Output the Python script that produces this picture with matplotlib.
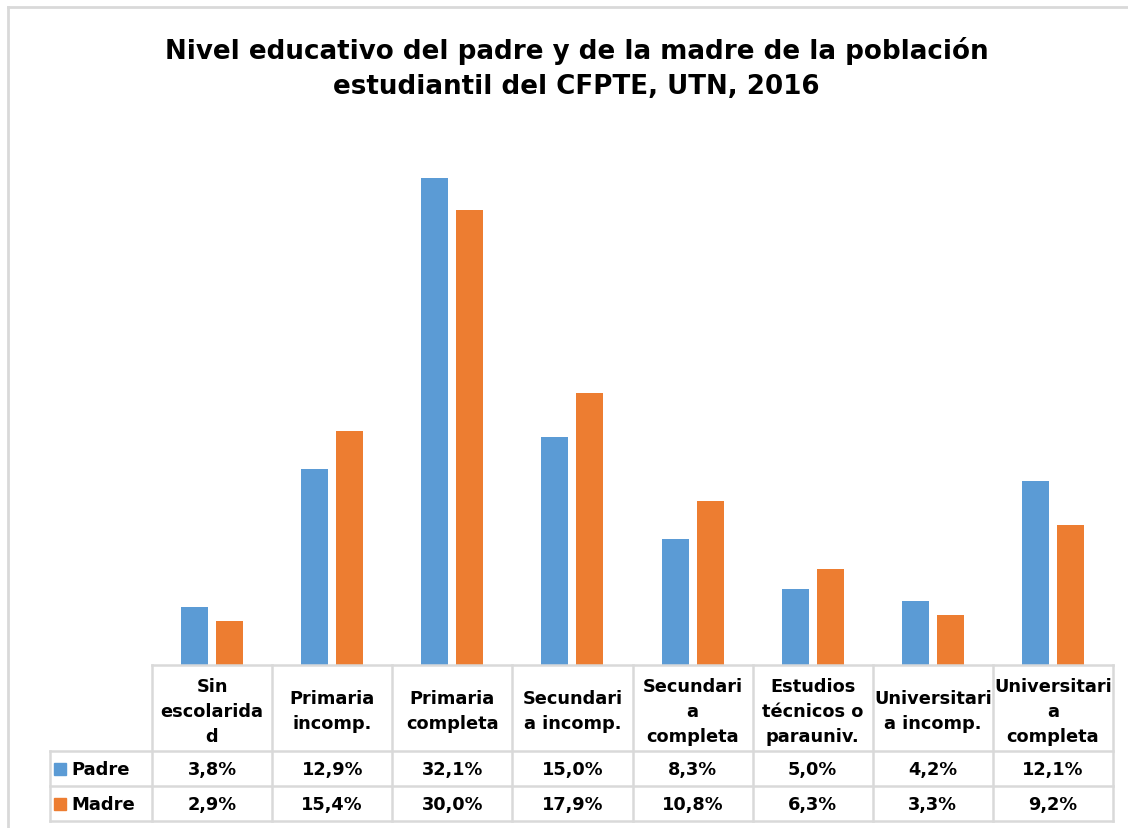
import matplotlib.pyplot as plt
from matplotlib.lines import Line2D
import numpy as np

# datos (porcentajes)
categorias = ['Sin\nescolarida\nd', 'Primaria\nincomp.', 'Primaria\ncompleta',
              'Secundari\na incomp.', 'Secundari\na\ncompleta',
              'Estudios\ntécnicos o\nparauniv.', 'Universitari\na incomp.',
              'Universitari\na\ncompleta']
padre = [3.8, 12.9, 32.1, 15.0, 8.3, 5.0, 4.2, 12.1]
madre = [2.9, 15.4, 30.0, 17.9, 10.8, 6.3, 3.3, 9.2]
series = ['Padre', 'Madre']
colores = ['#5B9BD5', '#ED7D31']

titulo = 'Nivel educativo del padre y de la madre de la población\nestudiantil del CFPTE, UTN, 2016'

plt.rcParams['font.family'] = ['DejaVu Sans']
gris = '#d9d9d9'

fig = plt.figure(figsize=(11.28, 8.29), dpi=100)
ax = fig.add_axes([152 / 1128, 163 / 829, 961 / 1128, 531 / 829])

x = np.arange(len(categorias))
ancho = 0.225
ax.bar(x - 0.146, padre, ancho, color=colores[0])
ax.bar(x + 0.146, madre, ancho, color=colores[1])

ax.set_xlim(-0.5, len(categorias) - 0.5)
ax.set_ylim(0, 35)
ax.axis('off')

# ---- tabla de datos debajo del gráfico ----
tr = ax.get_xaxis_transform()   # x en datos, y en fracción de ejes
y_enc = -0.162   # fondo de la fila de encabezado
y_p = -0.228     # fondo fila Padre
y_m = -0.294     # fondo fila Madre
x_izq = -1.35    # borde izquierdo de la columna de leyenda
x_der = len(categorias) - 0.5

def linea(xs, ys):
    ax.add_line(Line2D(xs, ys, transform=tr, color=gris, lw=1.8, clip_on=False))

linea([-0.5, x_der], [0, 0])
for yy in (y_enc, y_p, y_m):
    linea([x_izq, x_der], [yy, yy])
for xx in np.arange(-0.5, len(categorias)):
    linea([xx, xx], [0, y_m])
linea([x_izq, x_izq], [y_enc, y_m])

for i, cat in enumerate(categorias):
    ax.text(i, y_enc / 2 - 0.005, cat, transform=tr, ha='center', va='center',
            fontsize=12.8, fontweight='bold', linespacing=1.5)
    for vals, (ya, yb) in zip([padre, madre], [(y_enc, y_p), (y_p, y_m)]):
        ax.text(i, (ya + yb) / 2, f'{vals[i]:.1f}%'.replace('.', ','),
                transform=tr, ha='center', va='center',
                fontsize=12.8, fontweight='bold')

for nombre, col, (ya, yb) in zip(series, colores, [(y_enc, y_p), (y_p, y_m)]):
    ym = (ya + yb) / 2
    ax.plot([-1.27], [ym], marker='s', ms=8.5, color=col, transform=tr, clip_on=False)
    ax.text(-1.17, ym, nombre, transform=tr, ha='left', va='center',
            fontsize=13, fontweight='bold')

# título
fig.text(0.511, 0.917, titulo, ha='center', va='center', fontsize=18.8,
         fontweight='bold', linespacing=1.45)

# borde del área del gráfico (solo izquierda y arriba visibles)
fig.add_artist(Line2D([8 / 1128, 8 / 1128], [0, 1 - 8 / 829], color=gris, lw=2))
fig.add_artist(Line2D([8 / 1128, 1], [1 - 8 / 829, 1 - 8 / 829], color=gris, lw=2))

fig.savefig('out.png', dpi=100)
